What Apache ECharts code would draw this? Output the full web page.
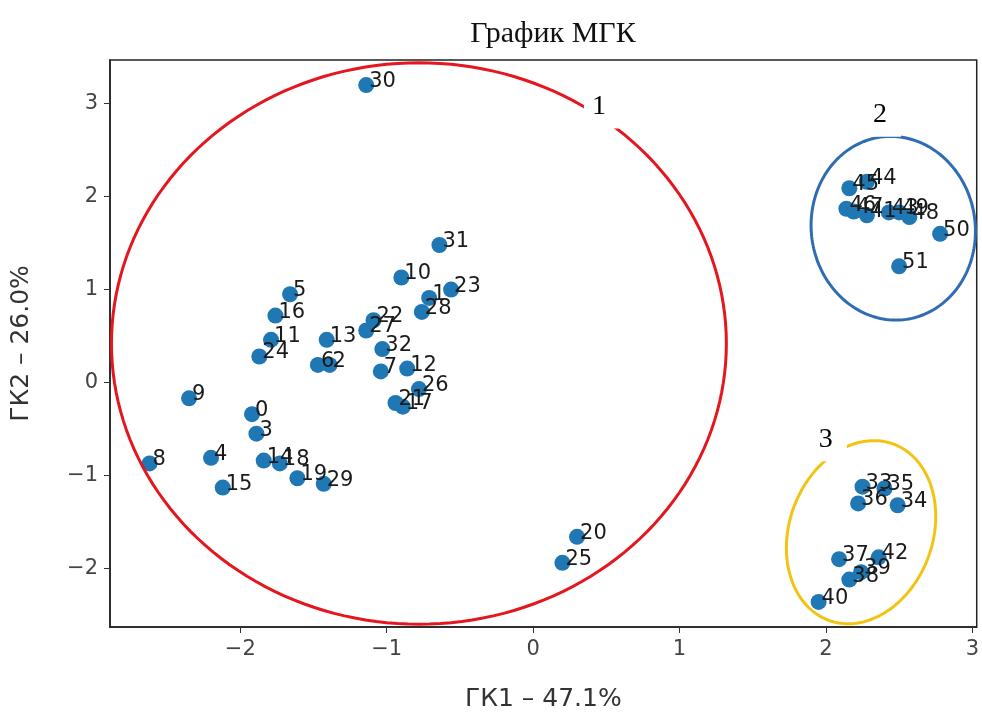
<!DOCTYPE html>
<html>
<head>
<meta charset="utf-8">
<script src="https://cdn.jsdelivr.net/npm/echarts@6/dist/echarts.min.js"></script>
<style>
html,body{margin:0;padding:0;background:#fff;}
#chart{width:982px;height:717px;}
</style>
</head>
<body>
<div id="chart"></div>
<script>
// ---- data ----
var pointIds = [0,1,2,3,4,5,6,7,8,9,10,11,12,13,14,15,16,17,18,19,20,21,22,23,24,25,26,27,28,29,30,31,32,33,34,35,36,37,38,39,40,41,42,43,44,45,46,47,48,49,50,51];
var pc1 = [-1.92,-0.71,-1.39,-1.89,-2.20,-1.66,-1.47,-1.04,-2.62,-2.35,-0.90,-1.79,-0.86,-1.41,-1.84,-2.12,-1.76,-0.89,-1.73,-1.61,0.30,-0.94,-1.09,-0.56,-1.87,0.20,-0.78,-1.14,-0.76,-1.43,-1.14,-0.64,-1.03,2.25,2.49,2.40,2.22,2.09,2.16,2.24,1.95,2.28,2.36,2.43,2.28,2.16,2.14,2.19,2.57,2.50,2.78,2.50];
var pc2 = [-0.34,0.91,0.19,-0.55,-0.81,0.95,0.19,0.12,-0.87,-0.17,1.13,0.46,0.15,0.46,-0.84,-1.13,0.72,-0.26,-0.87,-1.03,-1.66,-0.22,0.67,1.00,0.28,-1.94,-0.07,0.56,0.76,-1.09,3.20,1.48,0.36,-1.12,-1.32,-1.14,-1.30,-1.90,-2.12,-2.04,-2.36,1.80,-1.88,1.83,2.16,2.09,1.87,1.84,1.78,1.83,1.60,1.25];

// cluster annotations (data units)
var clusterNames = ['1','2','3'];
var clusterCx = [-0.78, 2.46, 2.24];
var clusterCy = [0.42, 1.66, -1.61];
var clusterRx = [2.10, 0.56, 0.49];
var clusterRy = [3.02, 0.99, 1.01];
var clusterRot = [0, -8, 20];
var clusterLabelX = [0.47, 2.39, 2.02];
var clusterLabelY = [2.97, 2.88, -0.61];
var clusterColors = ['#e3171d', '#2f6cb2', '#f3c314'];

var chartTitle = 'График МГК';
var xName = 'ГК1 – 47.1%';
var yName = 'ГК2 – 26.0%';

// ---- build ----
var scatterData = pointIds.map(function(id, i){ return {value:[pc1[i], pc2[i]], name:String(id)}; });
var ellipseData = clusterNames.map(function(n, i){
  return [clusterCx[i], clusterCy[i], clusterRx[i], clusterRy[i], clusterRot[i], clusterLabelX[i], clusterLabelY[i], i];
});

function minusFmt(v){ return String(v).replace('-', '\u2212'); }

var chart = echarts.init(document.getElementById('chart'));
chart.setOption({
  animation: false,
  backgroundColor: '#fff',
  title: {
    text: chartTitle, left: 548, top: 14, textAlign: 'center',
    textStyle: {fontFamily: 'Liberation Serif', fontSize: 30, fontWeight: 'normal', color: '#111'}
  },
  grid: {left: 110, right: 4, top: 60, bottom: 84, show: true, borderColor: '#222', borderWidth: 1.5},
  xAxis: {
    type: 'value', min: -2.89, max: 3.03, splitNumber: 6,
    name: xName, nameLocation: 'middle', nameGap: 60,
    nameTextStyle: {fontFamily: 'DejaVu Sans', fontSize: 25, color: '#333'},
    axisLine: {show: true, onZero: false, lineStyle: {color: '#222', width: 1.5}},
    axisTick: {show: true, inside: false, length: 6, lineStyle: {color: '#333'}},
    axisLabel: {showMinLabel: false, showMaxLabel: false, fontFamily: 'DejaVu Sans', fontSize: 21, color: '#444', margin: 12, formatter: minusFmt},
    splitLine: {show: false}
  },
  yAxis: {
    type: 'value', min: -2.63, max: 3.47, splitNumber: 6,
    name: yName, nameLocation: 'middle', nameGap: 76, nameRotate: 90,
    nameTextStyle: {fontFamily: 'DejaVu Sans', fontSize: 25, color: '#333'},
    axisLine: {show: true, onZero: false, lineStyle: {color: '#222', width: 1.5}},
    axisTick: {show: true, inside: false, length: 6, lineStyle: {color: '#333'}},
    axisLabel: {showMinLabel: false, showMaxLabel: false, fontFamily: 'DejaVu Sans', fontSize: 21, color: '#444', margin: 12, formatter: minusFmt},
    splitLine: {show: false}
  },
  series: [
    {
      type: 'scatter',
      data: scatterData,
      symbolSize: 16,
      itemStyle: {color: '#1f77b4', opacity: 1},
      label: {
        show: true, formatter: '{b}', position: [11, 15], align: 'left', verticalAlign: 'bottom',
        fontFamily: 'DejaVu Sans', fontSize: 21, color: '#1a1a1a'
      },
      z: 2
    },
    {
      type: 'custom',
      data: ellipseData,
      z: 5,
      clip: false,
      renderItem: function(params, api){
        var c = api.coord([api.value(0), api.value(1)]);
        var rx = api.size([api.value(2), 0])[0];
        var ry = api.size([0, api.value(3)])[1];
        var rot = api.value(4) * Math.PI / 180;
        var idx = api.value(7);
        var pts = [];
        for (var k = 0; k < 180; k++) {
          var t = k / 180 * Math.PI * 2;
          var ex = rx * Math.cos(t), ey = ry * Math.sin(t);
          pts.push([c[0] + ex * Math.cos(rot) - ey * Math.sin(rot), c[1] + ex * Math.sin(rot) + ey * Math.cos(rot)]);
        }
        var lp = api.coord([api.value(5), api.value(6)]);
        return {
          type: 'group',
          children: [
            {type: 'polygon', shape: {points: pts}, style: {fill: 'none', stroke: clusterColors[idx], lineWidth: 3}},
            {type: 'text', x: lp[0], y: lp[1], z2: 10, style: {
              text: clusterNames[idx], font: '28px "Liberation Serif"', fill: '#000',
              align: 'center', verticalAlign: 'middle',
              backgroundColor: '#fff', padding: [8, 14, 8, 8]
            }}
          ]
        };
      }
    }
  ]
});
</script>
</body>
</html>
